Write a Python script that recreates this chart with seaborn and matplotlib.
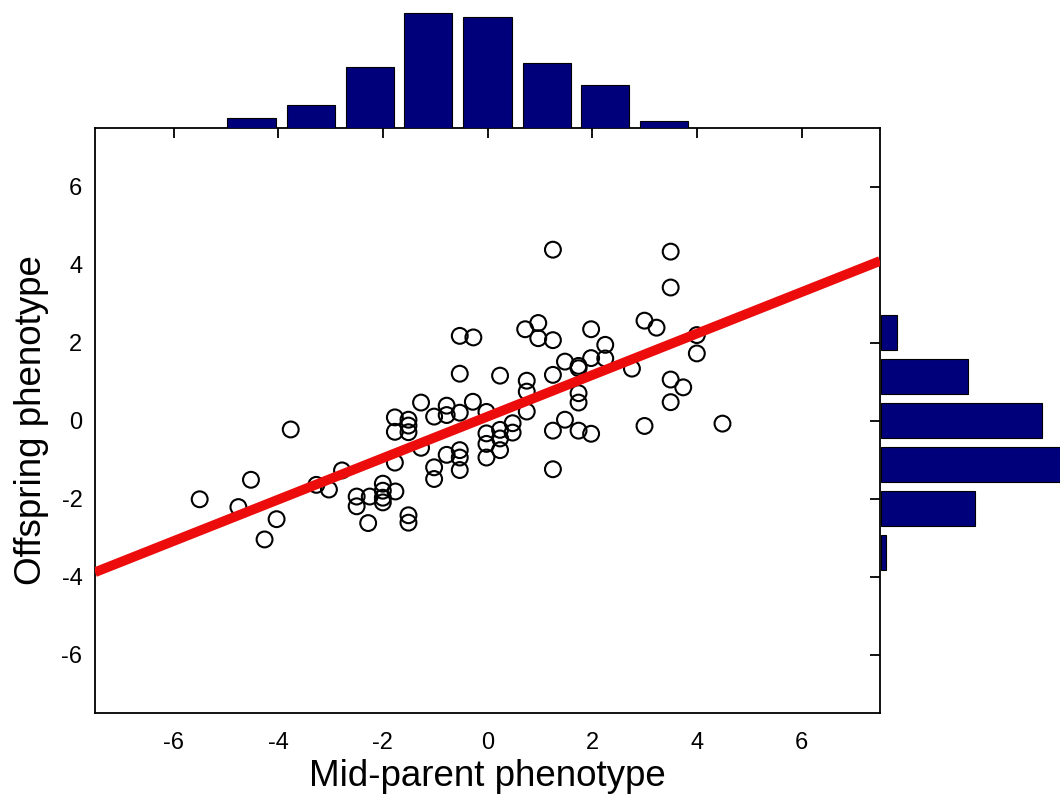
import numpy as np
import pandas as pd
import matplotlib
matplotlib.use("Agg")
import matplotlib.pyplot as plt
import seaborn as sns

# ---------------- data ----------------
mid_parent = [
    -5.50, -4.76, -4.52, -4.26, -4.03, -3.76, -3.27, -3.03, -2.78, -2.50,
    -2.50, -2.28, -2.25, -2.00, -2.00, -2.00, -2.00, -1.76, -1.51, -1.51,
    -1.77, -1.77, -1.77, -1.51, -1.51, -1.51, -1.27, -1.27, -1.02, -1.02,
    -1.02, -0.78, -0.78, -0.78, -0.53, -0.53, -0.53, -0.53, -0.28, -0.02,
    -0.02, -0.02, -0.02, 0.24, 0.24, 0.24, 0.48, 0.48, 0.75, 1.25,
    1.25, 1.48, 1.74, 1.98, 3.00, 3.50, 4.49, 1.25, 3.50, 3.50,
    -0.53, -0.27, -0.53, 0.24, 0.72, 0.97, 0.97, 1.25, 0.75, 0.75,
    1.25, 1.48, 1.74, 1.74, 1.98, 1.98, 2.25, 2.25, 2.76, 3.00,
    3.23, 4.00, 4.00, 3.50, 3.74, 1.74, 1.74,
]
offspring = [
    -2.02, -2.22, -1.52, -3.05, -2.53, -0.23, -1.65, -1.77, -1.28, -1.95,
    -2.20, -2.63, -1.95, -1.62, -1.80, -1.98, -2.10, -1.82, -2.43, -2.62,
    -1.08, 0.08, -0.29, 0.02, -0.13, -0.30, 0.46, -0.70, 0.10, -1.20,
    -1.50, 0.38, 0.14, -0.88, 0.20, -0.76, -0.95, -1.27, 0.48, 0.22,
    -0.33, -0.60, -0.95, -0.24, -0.46, -0.76, -0.07, -0.31, 0.23, -0.26,
    -1.25, 0.02, -0.26, -0.34, -0.14, 0.47, -0.08, 4.38, 4.33, 3.41,
    2.17, 2.13, 1.20, 1.15, 2.34, 2.50, 2.11, 2.06, 1.02, 0.74,
    1.17, 1.51, 1.40, 1.34, 2.34, 1.60, 1.94, 1.59, 1.33, 2.56,
    2.38, 2.19, 1.72, 1.05, 0.85, 0.70, 0.46,
]

fit_slope = 0.532
fit_intercept = 0.10
fit_x = [-7.5, 7.5]

top_bin_centers = [-4.51, -3.38, -2.25, -1.13, 0.0, 1.13, 2.25, 3.38]
top_bin_heights = [1.5, 3.4, 9.1, 17.2, 16.6, 9.7, 6.4, 1.0]

right_bin_centers = [2.25, 1.13, 0.0, -1.13, -2.25, -3.38]
right_bin_lengths = [2.4, 13.0, 24.0, 30.0, 14.0, 0.7]

tick_values = [-6, -4, -2, 0, 2, 4, 6]
tick_labels = ["-6", "-4", "-2", "0", "2", "4", "6"]
axis_limits = (-7.5, 7.5)

x_label = "Mid-parent phenotype"
y_label = "Offspring phenotype"

# ---------------- styling ----------------
sns.set_style("white")
plt.rcParams["font.family"] = ["Liberation Sans", "DejaVu Sans"]

W, H, DPI = 1060, 799, 100
fig = plt.figure(figsize=(W / DPI, H / DPI), dpi=DPI)
fig.patch.set_facecolor("white")

def px_rect(x0, y_top, w, h):
    return [x0 / W, (H - y_top - h) / H, w / W, h / H]

ax = fig.add_axes(px_rect(95, 128, 785, 585))
ax_top = fig.add_axes(px_rect(95, 0, 785, 128))
ax_right = fig.add_axes(px_rect(881, 128, 240, 585))

bar_color = "#00007a"

# main scatter
pts = pd.DataFrame({"mid": mid_parent, "off": offspring})
sns.scatterplot(data=pts, x="mid", y="off", ax=ax, marker="o", s=130,
                facecolors="none", edgecolor="black", linewidth=1.5, zorder=2)

# fitted line
line = pd.DataFrame({"x": fit_x,
                     "y": [fit_slope * v + fit_intercept for v in fit_x]})
sns.lineplot(data=line, x="x", y="y", ax=ax, color="#ec0c0c", linewidth=7,
             zorder=3, solid_capstyle="butt")

ax.set_xlim(*axis_limits)
ax.set_ylim(*axis_limits)
ax.set_xticks(tick_values)
ax.set_xticklabels(tick_labels)
ax.set_yticks(tick_values)
ax.set_yticklabels(tick_labels)
ax.tick_params(direction="in", length=7, width=1.3, top=True, right=True,
               labelsize=17, colors="black")
ax.tick_params(axis="x", pad=14)
ax.tick_params(axis="y", pad=9)
for sp in ax.spines.values():
    sp.set_visible(True)
    sp.set_color("black")
    sp.set_linewidth(1.3)
ax.set_xlabel(x_label, fontsize=26.5, labelpad=3, color="black")
ax.set_ylabel(y_label, fontsize=26.5, labelpad=9, color="black")

# top histogram
top_df = pd.DataFrame({"c": top_bin_centers, "h": top_bin_heights})
sns.barplot(data=top_df, x="c", y="h", ax=ax_top, native_scale=True,
            width=0.82, color=bar_color, saturation=1, edgecolor="black",
            linewidth=0.8, errorbar=None)
ax_top.set_xlim(*axis_limits)
ax_top.set_ylim(0, 17.2 * 128 / 115)
ax_top.axis("off")

# right histogram
right_df = pd.DataFrame({"c": right_bin_centers, "l": right_bin_lengths})
sns.barplot(data=right_df, x="l", y="c", ax=ax_right, orient="y",
            native_scale=True, width=0.81, color=bar_color, saturation=1,
            edgecolor="black", linewidth=0.8, errorbar=None)
ax_right.set_ylim(*axis_limits)
ax_right.set_xlim(0, 240 / 6.69)
ax_right.axis("off")

fig.savefig("out.png", dpi=DPI, facecolor="white")
